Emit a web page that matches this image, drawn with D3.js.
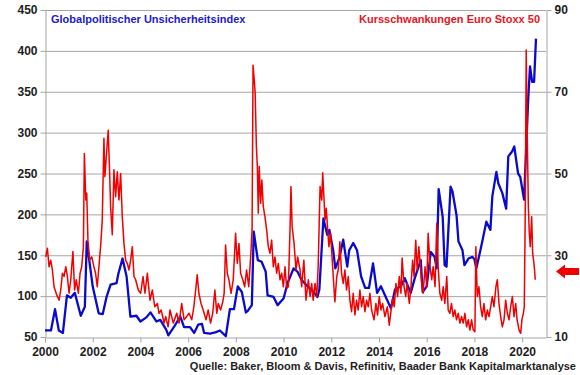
<!DOCTYPE html>
<html>
<head>
<meta charset="utf-8">
<script src="https://cdn.jsdelivr.net/npm/d3@7"></script>
<style>
  body { margin: 0; background: #fff; }
  svg { display: block; font-family: "Liberation Sans", Arial, sans-serif; }
</style>
</head>
<body>
<svg id="chart" width="580" height="375"></svg>
<script>
// Globalpolitischer Unsicherheitsindex (linke Achse), monatlich
var gprTime = [2000.00, 2000.08, 2000.25, 2000.42, 2000.58, 2000.75, 2000.92, 2001.08, 2001.25, 2001.50,
    2001.67, 2001.75, 2002.00, 2002.25, 2002.42, 2002.58, 2002.75, 2003.00, 2003.08, 2003.25,
    2003.42, 2003.58, 2003.83, 2004.00, 2004.25, 2004.42, 2004.67, 2004.83, 2005.08, 2005.17,
    2005.42, 2005.67, 2005.83, 2006.08, 2006.25, 2006.42, 2006.58, 2006.67, 2006.92, 2007.17,
    2007.33, 2007.58, 2007.75, 2007.92, 2008.08, 2008.25, 2008.42, 2008.50, 2008.67, 2008.75,
    2008.92, 2009.08, 2009.25, 2009.33, 2009.58, 2009.75, 2010.00, 2010.17, 2010.42, 2010.58,
    2010.75, 2011.00, 2011.17, 2011.42, 2011.50, 2011.67, 2011.83, 2011.92, 2012.08, 2012.17,
    2012.33, 2012.50, 2012.67, 2012.75, 2012.92, 2013.08, 2013.25, 2013.42, 2013.58, 2013.75,
    2013.92, 2014.08, 2014.25, 2014.50, 2014.67, 2014.92, 2015.08, 2015.33, 2015.50, 2015.75,
    2015.83, 2016.00, 2016.17, 2016.33, 2016.42, 2016.50, 2016.67, 2016.75, 2016.83, 2017.00,
    2017.08, 2017.25, 2017.33, 2017.50, 2017.58, 2017.75, 2017.92, 2018.00, 2018.08, 2018.25,
    2018.33, 2018.50, 2018.67, 2018.75, 2018.92, 2019.00, 2019.17, 2019.33, 2019.42, 2019.58,
    2019.67, 2019.83, 2019.92, 2020.08, 2020.25, 2020.33, 2020.42, 2020.50, 2020.58];
var gprValues = [58, 58, 58, 84, 58, 55, 101, 98, 104, 76,
    87, 167, 112, 79, 78, 99, 114, 116, 128, 146,
    124, 75, 76, 69, 74, 80, 69, 71, 59, 52,
    63, 75, 62, 62, 55, 65, 66, 55, 54, 56,
    58, 51, 84, 84, 112, 105, 80, 82, 89, 179,
    144, 142, 130, 101, 99, 89, 97, 116, 134, 130,
    120, 112, 108, 99, 108, 195, 175, 181, 156, 134,
    146, 169, 136, 156, 165, 156, 124, 110, 110, 140,
    104, 112, 101, 85, 108, 112, 122, 104, 122, 144,
    105, 112, 154, 148, 134, 231, 197, 138, 136, 234,
    228, 199, 167, 156, 138, 146, 148, 145, 134, 156,
    167, 191, 181, 222, 252, 238, 226, 207, 271, 277,
    283, 250, 246, 218, 338, 381, 362, 362, 415];

// Kursschwankungen Euro Stoxx 50 (rechte Achse)
var volTime = [2000.03, 2000.10, 2000.17, 2000.24, 2000.31, 2000.38, 2000.49, 2000.59, 2000.66, 2000.73,
    2000.80, 2000.87, 2000.93, 2001.01, 2001.08, 2001.17, 2001.24, 2001.31, 2001.40, 2001.47,
    2001.54, 2001.61, 2001.65, 2001.71, 2001.75, 2001.80, 2001.87, 2001.96, 2002.05, 2002.12,
    2002.19, 2002.26, 2002.33, 2002.40, 2002.47, 2002.51, 2002.59, 2002.65, 2002.71, 2002.75,
    2002.82, 2002.89, 2002.96, 2003.03, 2003.10, 2003.17, 2003.24, 2003.31, 2003.38, 2003.45,
    2003.52, 2003.59, 2003.66, 2003.73, 2003.80, 2003.91, 2004.01, 2004.11, 2004.19, 2004.29,
    2004.40, 2004.50, 2004.60, 2004.71, 2004.78, 2004.87, 2004.99, 2005.06, 2005.16, 2005.24,
    2005.38, 2005.52, 2005.62, 2005.73, 2005.83, 2005.94, 2006.04, 2006.15, 2006.24, 2006.33,
    2006.38, 2006.45, 2006.54, 2006.63, 2006.75, 2006.84, 2006.94, 2007.03, 2007.12, 2007.20,
    2007.26, 2007.36, 2007.45, 2007.51, 2007.57, 2007.64, 2007.71, 2007.80, 2007.89, 2007.99,
    2008.06, 2008.13, 2008.20, 2008.29, 2008.37, 2008.45, 2008.54, 2008.62, 2008.68, 2008.72,
    2008.77, 2008.81, 2008.86, 2008.90, 2008.94, 2008.98, 2009.04, 2009.09, 2009.15, 2009.22,
    2009.29, 2009.36, 2009.43, 2009.50, 2009.57, 2009.64, 2009.71, 2009.78, 2009.85, 2009.92,
    2009.99, 2010.06, 2010.13, 2010.20, 2010.27, 2010.31, 2010.36, 2010.44, 2010.52, 2010.59,
    2010.69, 2010.76, 2010.85, 2010.94, 2011.04, 2011.11, 2011.18, 2011.24, 2011.32, 2011.39,
    2011.45, 2011.53, 2011.60, 2011.64, 2011.69, 2011.74, 2011.79, 2011.85, 2011.90, 2011.97,
    2012.04, 2012.11, 2012.15, 2012.23, 2012.29, 2012.36, 2012.43, 2012.50, 2012.57, 2012.64,
    2012.71, 2012.78, 2012.85, 2012.92, 2012.99, 2013.06, 2013.13, 2013.20, 2013.27, 2013.34,
    2013.41, 2013.48, 2013.55, 2013.62, 2013.69, 2013.79, 2013.87, 2013.94, 2014.01, 2014.08,
    2014.15, 2014.25, 2014.35, 2014.43, 2014.50, 2014.57, 2014.64, 2014.71, 2014.78, 2014.85,
    2014.92, 2014.97, 2015.05, 2015.12, 2015.18, 2015.27, 2015.34, 2015.41, 2015.47, 2015.54,
    2015.60, 2015.67, 2015.79, 2015.85, 2015.93, 2016.00, 2016.06, 2016.14, 2016.21, 2016.27,
    2016.35, 2016.42, 2016.48, 2016.55, 2016.63, 2016.69, 2016.76, 2016.84, 2016.90, 2016.97,
    2017.04, 2017.11, 2017.18, 2017.25, 2017.32, 2017.39, 2017.46, 2017.53, 2017.60, 2017.67,
    2017.74, 2017.81, 2017.88, 2017.95, 2018.02, 2018.06, 2018.12, 2018.19, 2018.26, 2018.33,
    2018.40, 2018.47, 2018.54, 2018.61, 2018.68, 2018.75, 2018.82, 2018.90, 2018.96, 2019.03,
    2019.10, 2019.17, 2019.24, 2019.31, 2019.38, 2019.45, 2019.52, 2019.59, 2019.66, 2019.73,
    2019.79, 2019.87, 2019.94, 2019.99, 2020.05, 2020.09, 2020.13, 2020.17, 2020.21, 2020.26,
    2020.30, 2020.34, 2020.40, 2020.44, 2020.48, 2020.52, 2020.55];
var volValues = [29.6, 31.7, 27.2, 28.8, 26.4, 22.3, 20.3, 19.0, 21.5, 25.6,
    24.8, 27.2, 25.2, 20.7, 24.0, 30.9, 21.5, 24.0, 20.7, 25.6,
    27.2, 32.1, 54.9, 43.5, 45.2, 33.7, 28.8, 29.6, 27.2, 25.6,
    22.3, 27.2, 32.1, 38.6, 58.6, 49.2, 55.7, 60.6, 50.0, 41.9,
    35.0, 50.9, 44.3, 50.4, 43.5, 50.0, 39.4, 32.9, 28.8, 28.0,
    26.4, 28.8, 32.1, 24.8, 24.0, 21.5, 20.7, 24.8, 20.7, 25.6,
    19.0, 21.5, 17.4, 18.2, 15.8, 16.6, 13.4, 15.0, 12.5, 16.6,
    13.4, 15.8, 13.4, 18.2, 14.2, 15.0, 15.8, 14.2, 17.4, 22.3,
    25.2, 20.7, 18.2, 16.6, 14.2, 16.6, 13.4, 15.8, 21.5, 15.8,
    18.2, 16.6, 18.6, 20.7, 32.5, 25.6, 24.0, 20.7, 24.0, 35.4,
    28.0, 32.9, 25.6, 24.0, 22.3, 26.4, 22.3, 29.6, 36.2, 76.5,
    72.9, 69.6, 56.6, 51.7, 40.3, 51.7, 42.7, 48.4, 41.9, 39.4,
    36.2, 32.1, 30.5, 33.7, 27.2, 29.6, 25.6, 28.0, 24.0, 25.6,
    22.3, 27.2, 21.9, 22.3, 36.2, 46.8, 37.0, 32.9, 26.4, 29.6,
    26.4, 22.3, 28.8, 19.0, 24.0, 19.9, 23.1, 19.0, 23.1, 19.9,
    27.2, 46.8, 43.5, 50.2, 44.3, 38.6, 41.5, 36.2, 32.1, 35.4,
    28.8, 22.3, 18.6, 24.8, 26.4, 33.3, 25.6, 23.1, 26.4, 21.5,
    24.8, 19.0, 16.2, 20.7, 15.4, 19.0, 16.6, 21.5, 17.4, 19.9,
    16.2, 19.0, 17.4, 20.7, 16.6, 14.2, 18.2, 15.4, 19.9, 16.6,
    18.2, 15.0, 17.4, 12.9, 16.2, 19.5, 17.4, 23.1, 19.9, 24.8,
    20.7, 29.3, 22.3, 19.9, 23.1, 18.2, 22.3, 28.8, 24.8, 33.7,
    26.4, 32.1, 23.1, 20.7, 27.2, 22.3, 35.4, 27.2, 24.0, 27.2,
    22.3, 37.8, 27.2, 20.7, 19.0, 22.3, 18.2, 24.8, 16.6, 15.8,
    18.2, 15.0, 16.6, 14.2, 15.8, 13.4, 15.0, 13.4, 15.8, 12.5,
    14.2, 11.7, 14.2, 11.7, 11.3, 32.1, 19.9, 22.3, 17.4, 15.0,
    18.2, 14.2, 16.6, 15.0, 17.4, 19.9, 17.4, 22.3, 24.0, 18.2,
    15.0, 12.5, 14.2, 19.0, 15.8, 14.2, 17.4, 19.9, 15.0, 18.2,
    14.2, 11.7, 10.9, 14.2, 15.8, 17.4, 40.3, 80.2, 61.4, 41.9,
    35.4, 32.1, 39.4, 30.5, 28.8, 26.4, 24.0];

var leftTicks = [50, 100, 150, 200, 250, 300, 350, 400, 450];
var rightTicks = [10, 30, 50, 70, 90];
var yearTicks = [2000, 2002, 2004, 2006, 2008, 2010, 2012, 2014, 2016, 2018, 2020];
var arrowLevel = 26;

var svg = d3.select("#chart");
var x = d3.scaleLinear().domain([2000, 2021]).range([45, 546]);
var yL = d3.scaleLinear().domain([50, 450]).range([337, 10]);
var yR = d3.scaleLinear().domain([10, 90]).range([337, 10]);

var gridColor = "#a6a6a6";
var textColor = "#1e1e1e";

svg.append("rect").attr("width", 580).attr("height", 375).attr("fill", "#fff");

// gridlines
svg.append("g")
    .selectAll("line")
    .data(leftTicks.slice(1))
    .enter().append("line")
        .attr("x1", x(2000)).attr("x2", x(2021))
        .attr("y1", d => yL(d) + 0.5).attr("y2", d => yL(d) + 0.5)
        .attr("stroke", gridColor)
        .attr("stroke-width", 1);

function styleAxis(g) {
    g.selectAll("path.domain").attr("stroke", gridColor);
    g.selectAll(".tick line").attr("stroke", gridColor);
    g.selectAll(".tick text")
        .attr("fill", textColor)
        .style("font-size", "12px")
        .style("font-weight", "bold")
        .style("font-family", "'Liberation Sans', Arial, sans-serif");
}

svg.append("g")
    .attr("transform", "translate(" + (x(2000) + 0.5) + ",0)")
    .call(d3.axisLeft(yL).tickValues(leftTicks).tickSize(5).tickSizeOuter(0).tickPadding(3))
    .call(styleAxis);

svg.append("g")
    .attr("transform", "translate(" + (x(2021) + 0.5) + ",0)")
    .call(d3.axisRight(yR).tickValues(rightTicks).tickSize(5).tickSizeOuter(0).tickPadding(3))
    .call(styleAxis);

svg.append("g")
    .attr("transform", "translate(0," + (yL(50) + 0.5) + ")")
    .call(d3.axisBottom(x).tickValues(yearTicks).tickFormat(d3.format("d")).tickSize(5).tickSizeOuter(0).tickPadding(5))
    .call(styleAxis);

// series
var volLine = d3.line()
    .x((d, i) => x(volTime[i]))
    .y(d => yR(d));

var gprLine = d3.line()
    .x((d, i) => x(gprTime[i]))
    .y(d => yL(d));

svg.append("path")
    .datum(gprValues)
    .attr("fill", "none")
    .attr("stroke", "#0a0acc")
    .attr("stroke-width", 2.3)
    .attr("stroke-linejoin", "round")
    .attr("d", gprLine);

svg.append("path")
    .datum(volValues)
    .attr("fill", "none")
    .attr("stroke", "#f00000")
    .attr("stroke-width", 1.5)
    .attr("stroke-linejoin", "round")
    .attr("d", volLine);

// labels
svg.append("text")
    .attr("x", 51).attr("y", 23)
    .attr("fill", "#2020c8")
    .style("font-size", "11px").style("font-weight", "bold")
    .text("Globalpolitischer Unsicherheitsindex");

svg.append("text")
    .attr("x", 540).attr("y", 23)
    .attr("text-anchor", "end")
    .attr("fill", "#e8141e")
    .style("font-size", "11px").style("font-weight", "bold")
    .text("Kursschwankungen Euro Stoxx 50");

svg.append("text")
    .attr("x", 576).attr("y", 370)
    .attr("text-anchor", "end")
    .attr("fill", textColor)
    .style("font-size", "11px").style("font-weight", "bold")
    .text("Quelle: Baker, Bloom & Davis, Refinitiv, Baader Bank Kapitalmarktanalyse");

// arrow pointing at current level
var ax = x(2021) + 10, ay = yR(arrowLevel);
svg.append("path")
    .attr("d", "M" + ax + "," + ay +
        "L" + (ax + 9) + "," + (ay - 7) +
        "L" + (ax + 9) + "," + (ay - 3.5) +
        "L" + (ax + 23) + "," + (ay - 3.5) +
        "L" + (ax + 23) + "," + (ay + 3.5) +
        "L" + (ax + 9) + "," + (ay + 3.5) +
        "L" + (ax + 9) + "," + (ay + 7) + "Z")
    .attr("fill", "#f00000");
</script>
</body>
</html>
